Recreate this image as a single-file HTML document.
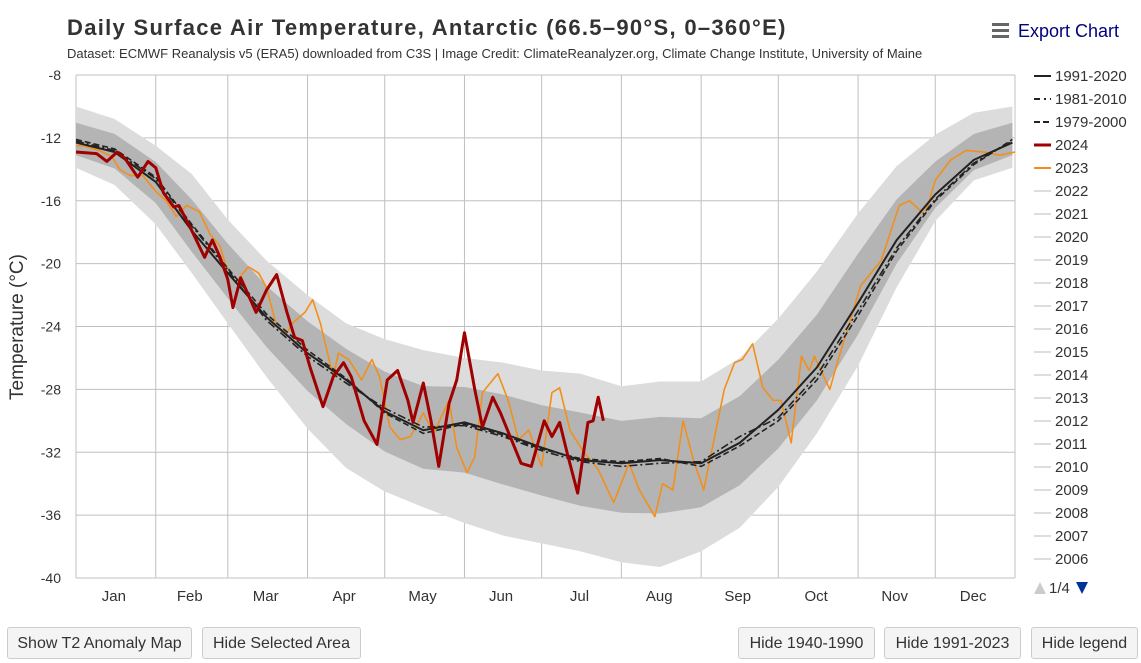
<!DOCTYPE html>
<html><head><meta charset="utf-8">
<style>
body{margin:0;width:1141px;height:663px;background:#fff;font-family:"Liberation Sans",Arial,sans-serif;position:relative;overflow:hidden}
.btn{position:absolute;top:627px;height:32px;border:1px solid #ccc;border-radius:3px;background:#f4f4f4;font-size:16px;color:#333;line-height:32px;text-align:center;box-sizing:border-box}
</style></head><body>
<svg id="chart" width="1141" height="620" style="position:absolute;left:0;top:0" font-family="Liberation Sans, Arial, sans-serif">
<text x="67" y="35" font-size="22" font-weight="bold" fill="#333" letter-spacing="1.3">Daily Surface Air Temperature, Antarctic (66.5–90°S, 0–360°E)</text>
<text x="67" y="58" font-size="13" fill="#333">Dataset: ECMWF Reanalysis v5 (ERA5) downloaded from C3S | Image Credit: ClimateReanalyzer.org, Climate Change Institute, University of Maine</text>
<g>
<rect x="992" y="23" width="17" height="3" fill="#666"/><rect x="992" y="29" width="17" height="3" fill="#666"/><rect x="992" y="35" width="17" height="3" fill="#666"/>
<text x="1018" y="37" font-size="18" fill="#000080">Export Chart</text></g>
<text transform="translate(23,327) rotate(-90)" text-anchor="middle" font-size="19" fill="#333">Temperature (°C)</text>
<g id="grid"></g><g id="band"></g><g id="series"></g><g id="axes"></g><g id="legend"></g>
</svg>
<div class="btn" style="left:7px;width:185px">Show T2 Anomaly Map</div>
<div class="btn" style="left:202px;width:159px">Hide Selected Area</div>
<div class="btn" style="left:738px;width:137px">Hide 1940-1990</div>
<div class="btn" style="left:884px;width:137px">Hide 1991-2023</div>
<div class="btn" style="left:1031px;width:107px">Hide legend</div>
<script>
const yTicks=[-8,-12,-16,-20,-24,-28,-32,-36,-40];
const months=["Jan","Feb","Mar","Apr","May","Jun","Jul","Aug","Sep","Oct","Nov","Dec"];
const monthStarts=[0,31,59,90,120,151,181,212,243,273,304,334,365];
const climDays=[0,15,31,45,59,74,90,105,120,135,151,166,181,196,212,227,243,258,273,288,304,319,334,349,364];
const clim9120=[-12.3,-12.9,-14.8,-17.9,-20.6,-23.4,-25.7,-27.4,-29.4,-30.6,-30.1,-30.8,-31.7,-32.5,-32.7,-32.5,-32.7,-31.4,-29.3,-26.6,-22.5,-18.5,-15.6,-13.4,-12.3];
const clim8110=[-12.2,-12.8,-14.6,-17.6,-20.4,-23.6,-25.9,-27.6,-29.2,-30.4,-30.3,-31.0,-31.9,-32.6,-32.9,-32.7,-32.6,-31.0,-29.8,-27.1,-23.0,-19.0,-15.9,-13.6,-12.2];
const clim7900=[-12.1,-12.7,-14.5,-17.5,-20.3,-23.2,-25.5,-27.3,-29.5,-30.8,-30.2,-30.9,-31.8,-32.4,-32.6,-32.4,-32.9,-31.6,-30.0,-27.4,-23.3,-19.2,-16.0,-13.7,-12.1];
const envUpper=[-10.0,-10.8,-12.5,-14.3,-17.2,-19.8,-22.0,-23.8,-24.8,-25.5,-26.0,-26.3,-26.8,-27.0,-27.8,-27.5,-27.5,-26.0,-23.5,-20.5,-16.8,-13.8,-11.8,-10.4,-10.0];
const envLower=[-13.9,-15.0,-17.5,-20.6,-23.8,-27.2,-30.5,-33.0,-34.5,-35.5,-36.5,-37.3,-37.8,-38.3,-39.0,-39.3,-38.3,-36.8,-34.2,-30.8,-26.5,-21.5,-17.3,-14.7,-13.9];
const d2024=[0,8,12,16,19,24,28,31,34,38,40,45,50,53,56,59,61,64,70,74,78,82,85,88,91,96,100,104,107,112,117,121,125,129,131,135,138,141,145,148,151,155,158,162,165,173,177,182,185,188,191,195,199,201,203,205];
const t2024=[-12.9,-13.0,-13.5,-12.9,-13.3,-14.5,-13.5,-13.9,-15.5,-16.4,-16.3,-17.9,-19.6,-18.5,-19.6,-21.0,-22.8,-20.9,-23.1,-21.7,-20.7,-23.1,-24.7,-24.9,-26.6,-29.1,-27.2,-26.3,-27.2,-30.0,-31.5,-27.4,-26.8,-28.7,-30.1,-27.6,-30.0,-32.9,-28.9,-27.4,-24.4,-28.0,-30.4,-28.5,-29.5,-32.7,-32.9,-30.0,-31.0,-30.1,-32.1,-34.6,-30.1,-30.0,-28.5,-30.0];
const d2023=[0,3,9,14,17,21,26,31,35,39,43,48,52,56,58,62,67,71,74,78,82,84,89,92,95,100,102,106,111,115,118,122,126,130,135,139,145,148,152,155,158,164,168,172,176,181,185,188,192,197,203,209,215,219,225,228,232,236,240,244,248,252,256,259,263,267,271,274,278,282,285,287,293,297,301,305,313,320,324,330,334,340,346,353,359,365];
const t2023=[-12.5,-12.5,-12.8,-13.2,-14.0,-14.4,-14.4,-15.4,-16.0,-17.0,-16.3,-16.7,-18.1,-18.9,-20.0,-21.2,-20.2,-20.6,-21.5,-24.0,-24.4,-23.8,-23.1,-22.3,-23.8,-27.2,-25.7,-26.1,-27.4,-26.1,-27.2,-30.4,-31.2,-31.0,-29.5,-30.8,-28.7,-31.7,-33.3,-32.3,-28.2,-27.0,-28.7,-31.2,-30.6,-32.9,-28.2,-27.9,-30.6,-31.9,-33.1,-35.2,-32.7,-34.4,-36.1,-34.0,-34.4,-30.0,-32.5,-34.4,-31.2,-28.0,-26.3,-26.1,-25.1,-27.9,-28.7,-28.7,-31.4,-25.9,-26.8,-25.9,-28.0,-25.7,-23.6,-21.4,-19.8,-16.3,-16.0,-16.9,-14.7,-13.4,-12.8,-12.9,-13.1,-12.9];
const legendItems=["1991-2020","1981-2010","1979-2000","2024","2023","2022","2021","2020","2019","2018","2017","2016","2015","2014","2013","2012","2011","2010","2009","2008","2007","2006"];

const NS="http://www.w3.org/2000/svg";
const X0=76,X1=1015,Y0=75,Y1=578;
const xs=d=>X0+d*(X1-X0)/365;
const ys=t=>Y0+(-8-t)*(Y1-Y0)/32;
function mk(tag,parent,attrs){const e=document.createElementNS(NS,tag);for(const k in attrs)e.setAttribute(k,attrs[k]);parent.appendChild(e);return e;}
const grid=document.getElementById('grid'),axes=document.getElementById('axes'),band=document.getElementById('band'),series=document.getElementById('series'),legend=document.getElementById('legend');
yTicks.forEach(t=>{
 const l=mk('line',grid,{x1:X0,x2:X1,y1:ys(t),y2:ys(t),stroke:'#c0c0c0','stroke-width':1});
 
 
 const tx=mk('text',axes,{x:61,y:ys(t)+5,'text-anchor':'end','font-size':14,fill:'#333'});
 tx.textContent=t;
 
 
});
monthStarts.forEach((d,i)=>{
 const l=mk('line',grid,{x1:xs(d),x2:xs(d),y1:Y0,y2:Y1,stroke:'#c0c0c0','stroke-width':1});
 
 
 if(i<12){
  const tx=mk('text',axes,{x:xs((d+monthStarts[i+1])/2)-2,y:601,'text-anchor':'middle','font-size':15,fill:'#333'});
  tx.textContent=months[i];
  
  
 }
});
function poly(days,up,lo){let p=days.map((d,i)=>xs(d)+','+ys(up[i]));for(let i=days.length-1;i>=0;i--)p.push(xs(days[i])+','+ys(lo[i]));return p.join(' ');}
const outer=mk('polygon',band,{points:poly(climDays,envUpper,envLower),fill:'#dcdcdc'});


const innerUp=clim9120.map((v,i)=>v+(envUpper[i]-v)*0.55), innerLo=clim9120.map((v,i)=>v+(envLower[i]-v)*0.5);
const inner=mk('polygon',band,{points:poly(climDays,innerUp,innerLo),fill:'#b4b4b4'});


function line(days,vals,attrs,name){
 const p=mk('polyline',series,Object.assign({points:days.map((d,i)=>xs(d)+','+ys(vals[i])).join(' '),fill:'none','stroke-linejoin':'round'},attrs));
 
 
}
line(d2023,t2023,{stroke:'#f28f1c','stroke-width':1.6},'series-2023');
line(climDays,clim7900,{stroke:'#222','stroke-width':1.6,'stroke-dasharray':'6,3'},'series-1979-2000');
line(climDays,clim8110,{stroke:'#222','stroke-width':1.6,'stroke-dasharray':'8,3,2,3'},'series-1981-2010');
line(climDays,clim9120,{stroke:'#222','stroke-width':2},'series-1991-2020');
line(d2024,t2024,{stroke:'#a00000','stroke-width':3},'series-2024');
legendItems.forEach((n,i)=>{
 const y=76+i*23;
 let st={stroke:'#ddd','stroke-width':2};
 if(i==0)st={stroke:'#222','stroke-width':2};
 if(i==1)st={stroke:'#222','stroke-width':2,'stroke-dasharray':'6,4,2,4'};
 if(i==2)st={stroke:'#222','stroke-width':2,'stroke-dasharray':'6,3'};
 if(i==3)st={stroke:'#a00000','stroke-width':3};
 if(i==4)st={stroke:'#f28f1c','stroke-width':2};
 const g=mk('g',legend,{});
 
 
 mk('line',g,Object.assign({x1:1034,x2:1051,y1:y,y2:y},st));
 const t=mk('text',g,{x:1055,y:y+5,'font-size':15,fill:'#333'});
 t.textContent=n;
});
const nav=mk('g',legend,{});


mk('polygon',nav,{points:'1034,594 1046,594 1040,582',fill:'#ccc'});
const pt=mk('text',nav,{x:1049,y:593,'font-size':15,fill:'#333'});pt.textContent='1/4';
mk('polygon',nav,{points:'1076,582 1088,582 1082,594',fill:'#003399'});
</script>
</body></html>
